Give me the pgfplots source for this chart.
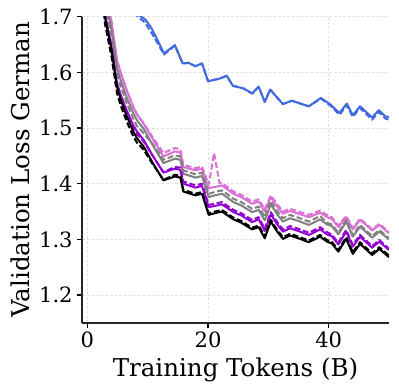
\documentclass[border=0pt]{standalone}
\usepackage{fontspec}
\setmainfont{DejaVu Serif}
\usepackage{pgfplots}
\usetikzlibrary{calc}
\pgfplotsset{compat=1.18}
\definecolor{mblue}{RGB}{65,105,225}
\definecolor{morchid}{RGB}{218,112,214}
\definecolor{mgray}{RGB}{128,128,128}
\definecolor{mpurple}{RGB}{148,0,211}
\tikzset{dsh/.style={dash pattern=on 4.5pt off 2pt}}
\begin{document}
\begin{tikzpicture}
\begin{axis}[name=ax, scale only axis, width=230.25pt, height=229.7pt,
 xmin=-0.9, xmax=50, ymin=1.15, ymax=1.7,
 axis x line*=bottom, axis y line*=left,
 axis line style={-, line width=1pt, black!85},
 xtick={0,20,40}, ytick={1.2,1.3,1.4,1.5,1.6,1.7},
 yticklabel style={/pgf/number format/fixed, /pgf/number format/precision=1, /pgf/number format/fixed zerofill},
 /pgf/number format/assume math mode=true,
 tick label style={font=\fontsize{15.8}{17}\selectfont},
 label style={font=\fontsize{18.4}{20}\selectfont},
 xlabel={Training Tokens (B)}, ylabel={Validation Loss German},
 grid=major, major grid style={dash pattern=on 2pt off 1.5pt, black!12, line width=0.6pt},
 tick align=outside, major tick length=3.5pt,
 every tick/.style={black, line width=0.9pt},
 every axis plot/.append style={line width=1.5pt, line join=round},
 ]
% blue
\addplot[mblue] coordinates {(7.0,1.760)(8.5,1.703)(9.6,1.695)(10.7,1.678)(12.7,1.634)(14.5,1.649)(15.8,1.616)(16.8,1.617)(17.9,1.611)(19.0,1.616)(20.0,1.584)(22.0,1.589)(23.1,1.594)(24.1,1.576)(25.9,1.571)(27.3,1.562)(28.4,1.574)(29.4,1.547)(30.3,1.569)(32.4,1.543)(33.9,1.549)(36.7,1.539)(38.7,1.554)(40.2,1.543)(41.8,1.527)(43.0,1.544)(44.0,1.523)(45.2,1.539)(47.2,1.519)(48.3,1.532)(49.4,1.521)(50,1.520)};
\addplot[mblue, dsh] coordinates {(7.0,1.755)(8.3,1.700)(9.5,1.690)(10.7,1.670)(12.7,1.632)(14.5,1.648)(15.8,1.616)(16.8,1.617)(17.9,1.611)(19.0,1.616)(20.0,1.584)(22.0,1.589)(23.1,1.594)(24.1,1.576)(25.9,1.571)(27.3,1.562)(28.4,1.574)(29.4,1.547)(30.3,1.569)(32.4,1.543)(33.9,1.549)(36.7,1.539)(38.7,1.553)(40.2,1.541)(41.8,1.524)(43.0,1.541)(44.0,1.520)(45.2,1.536)(47.2,1.515)(48.3,1.529)(49.4,1.517)(50,1.515)};
% orchid
\addplot[morchid] coordinates {(1.0,2.160)(2.0,1.880)(2.9,1.750)(4.0,1.690)(4.9,1.622)(5.5,1.600)(6.5,1.568)(7.6,1.538)(8.2,1.525)(9.3,1.508)(10.9,1.479)(12.6,1.449)(14.5,1.458)(15.4,1.456)(15.9,1.430)(17.9,1.424)(19.0,1.427)(20.1,1.392)(21.1,1.394)(22.3,1.397)(24.2,1.382)(25.5,1.376)(27.3,1.364)(28.4,1.368)(29.4,1.350)(30.4,1.376)(31.4,1.360)(32.4,1.346)(33.6,1.351)(35.0,1.346)(36.7,1.340)(38.6,1.348)(39.7,1.340)(40.5,1.337)(41.6,1.322)(42.9,1.340)(44.0,1.318)(45.2,1.335)(46.2,1.326)(47.2,1.316)(48.4,1.326)(50.0,1.311)};
\addplot[morchid, dsh] coordinates {(1.0,2.160)(2.0,1.880)(2.9,1.750)(4.0,1.690)(4.9,1.622)(5.5,1.600)(6.5,1.568)(7.6,1.538)(8.2,1.525)(9.3,1.509)(10.9,1.482)(12.6,1.455)(14.5,1.464)(15.4,1.462)(15.9,1.434)(17.9,1.428)(19.0,1.431)(20.1,1.398)(21.0,1.455)(21.9,1.401)(22.3,1.401)(24.2,1.386)(25.5,1.380)(27.3,1.368)(28.4,1.372)(29.4,1.354)(30.4,1.379)(31.4,1.364)(32.4,1.350)(33.6,1.355)(35.0,1.350)(36.7,1.344)(38.6,1.352)(39.7,1.344)(40.5,1.340)(41.6,1.325)(42.9,1.342)(44.0,1.320)(45.2,1.337)(46.2,1.328)(47.2,1.318)(48.4,1.328)(50.0,1.313)};
% gray
\addplot[mgray] coordinates {(1.0,2.135)(2.0,1.858)(2.9,1.735)(4.0,1.676)(4.9,1.608)(5.5,1.586)(6.5,1.555)(7.6,1.527)(8.2,1.514)(9.3,1.499)(10.9,1.468)(12.6,1.437)(14.5,1.445)(15.4,1.443)(15.9,1.418)(17.9,1.411)(19.0,1.414)(20.1,1.376)(21.1,1.379)(22.3,1.382)(24.2,1.367)(25.5,1.361)(27.3,1.349)(28.4,1.353)(29.4,1.334)(30.4,1.363)(31.4,1.346)(32.4,1.332)(33.6,1.338)(35.0,1.333)(36.7,1.326)(38.6,1.336)(39.7,1.327)(40.5,1.324)(41.6,1.309)(42.9,1.332)(44.0,1.305)(45.2,1.323)(46.2,1.313)(47.2,1.303)(48.4,1.314)(50.0,1.300)};
\addplot[mgray, dsh] coordinates {(1.0,2.125)(2.0,1.848)(2.9,1.725)(4.0,1.666)(4.9,1.598)(5.5,1.576)(6.5,1.545)(7.6,1.517)(8.2,1.504)(9.3,1.491)(10.9,1.470)(12.6,1.443)(14.5,1.451)(15.4,1.449)(15.9,1.424)(17.9,1.417)(19.0,1.420)(20.1,1.382)(21.1,1.385)(22.3,1.388)(24.2,1.373)(25.5,1.367)(27.3,1.355)(28.4,1.359)(29.4,1.340)(30.4,1.369)(31.4,1.352)(32.4,1.338)(33.6,1.344)(35.0,1.339)(36.7,1.332)(38.6,1.342)(39.7,1.330)(40.5,1.327)(41.6,1.312)(42.9,1.335)(44.0,1.308)(45.2,1.326)(46.2,1.316)(47.2,1.306)(48.4,1.317)(50.0,1.302)};
% purple
\addplot[mpurple] coordinates {(1.0,2.110)(2.0,1.828)(2.9,1.706)(4.0,1.646)(4.9,1.581)(5.5,1.560)(6.5,1.532)(7.6,1.505)(8.2,1.494)(9.3,1.479)(10.9,1.449)(12.6,1.420)(14.5,1.427)(15.4,1.425)(15.9,1.400)(17.9,1.393)(19.0,1.396)(20.1,1.358)(21.1,1.360)(22.3,1.363)(24.2,1.349)(25.5,1.343)(27.3,1.331)(28.4,1.336)(29.4,1.315)(30.4,1.345)(31.4,1.328)(32.4,1.314)(33.6,1.320)(35.0,1.315)(36.7,1.308)(38.6,1.318)(39.7,1.309)(40.5,1.306)(41.6,1.291)(42.9,1.314)(44.0,1.287)(45.2,1.305)(46.2,1.295)(47.2,1.285)(48.4,1.296)(50.0,1.281)};
\addplot[mpurple, dsh] coordinates {(1.0,2.105)(2.0,1.823)(2.9,1.702)(4.0,1.642)(4.9,1.577)(5.5,1.556)(6.5,1.528)(7.6,1.501)(8.2,1.490)(9.3,1.476)(10.9,1.449)(12.6,1.421)(14.5,1.430)(15.4,1.429)(15.9,1.404)(17.9,1.397)(19.0,1.400)(20.1,1.362)(21.1,1.364)(22.3,1.367)(24.2,1.353)(25.5,1.347)(27.3,1.335)(28.4,1.340)(29.4,1.319)(30.4,1.349)(31.4,1.332)(32.4,1.318)(33.6,1.324)(35.0,1.319)(36.7,1.312)(38.6,1.322)(39.7,1.313)(40.5,1.309)(41.6,1.294)(42.9,1.317)(44.0,1.290)(45.2,1.308)(46.2,1.298)(47.2,1.288)(48.4,1.299)(50.0,1.283)};
% black
\addplot[black] coordinates {(1.0,2.100)(2.0,1.820)(2.9,1.700)(4.0,1.640)(4.9,1.574)(5.5,1.552)(6.5,1.522)(7.6,1.494)(8.2,1.482)(9.3,1.467)(10.9,1.436)(12.6,1.406)(14.5,1.413)(15.4,1.411)(15.9,1.386)(17.9,1.379)(19.0,1.382)(20.1,1.344)(21.1,1.347)(22.3,1.350)(24.2,1.336)(25.5,1.330)(27.3,1.318)(28.4,1.322)(29.4,1.302)(30.4,1.332)(31.4,1.315)(32.4,1.301)(33.6,1.307)(35.0,1.302)(36.7,1.295)(38.6,1.305)(39.7,1.296)(40.5,1.293)(41.6,1.278)(42.9,1.301)(44.0,1.274)(45.2,1.292)(46.2,1.282)(47.2,1.272)(48.4,1.283)(50.0,1.268)};
\addplot[black, dsh] coordinates {(1.0,2.080)(2.0,1.805)(2.9,1.688)(4.0,1.628)(4.9,1.563)(5.5,1.541)(6.5,1.512)(7.6,1.485)(8.2,1.474)(9.3,1.461)(10.9,1.434)(12.6,1.407)(14.5,1.416)(15.4,1.414)(15.9,1.389)(17.9,1.382)(19.0,1.385)(20.1,1.347)(21.1,1.350)(22.3,1.353)(24.2,1.339)(25.5,1.333)(27.3,1.321)(28.4,1.325)(29.4,1.305)(30.4,1.335)(31.4,1.318)(32.4,1.304)(33.6,1.310)(35.0,1.305)(36.7,1.298)(38.6,1.308)(39.7,1.299)(40.5,1.296)(41.6,1.281)(42.9,1.304)(44.0,1.277)(45.2,1.295)(46.2,1.285)(47.2,1.275)(48.4,1.286)(50.0,1.271)};
\end{axis}
\path (ax.south west) ++(-61.5pt,-51.75pt) rectangle ($(ax.north east)+(7.5pt,12.5pt)$);
\end{tikzpicture}
\end{document}
